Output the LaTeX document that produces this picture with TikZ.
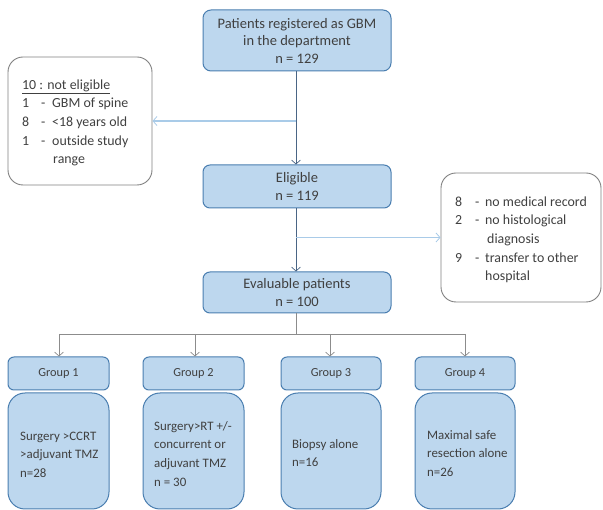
\documentclass[tikz,border=0pt]{standalone}
\usepackage{fontspec}
\setmainfont{Carlito}
\usetikzlibrary{arrows.meta}
\definecolor{boxfill}{HTML}{BDD7EE}
\definecolor{boxline}{HTML}{4A7EB0}
\definecolor{txt}{HTML}{404040}
\definecolor{mainarrow}{HTML}{4A6585}
\definecolor{sidearrow}{HTML}{A9CBE8}
\definecolor{grayline}{HTML}{8C8C8C}
\definecolor{sidebox}{HTML}{808080}
\tikzset{
  bluebox/.style={draw=boxline, fill=boxfill, line width=1pt, inner sep=0pt, text=txt, align=center},
  whitebox/.style={draw=sidebox, fill=white, line width=0.9pt, inner sep=0pt, rounded corners=15pt},
  bigtext/.style={font=\fontsize{14.5}{17.5}\selectfont},
  sidetext/.style={font=\fontsize{13.9}{18.6}\selectfont, text=txt, inner sep=0pt, align=left, anchor=north west},
  grptext/.style={font=\fontsize{12.9}{18.7}\selectfont, text=txt, inner sep=0pt, align=left, anchor=north west},
  mainline/.style={draw=mainarrow, line width=0.9pt},
  maintip/.style={-{Straight Barb[length=4pt,width=9pt,line width=0.7pt]}},
  sideline/.style={draw=sidearrow, line width=1.3pt, -{Straight Barb[length=4pt,width=9pt,line width=0.8pt]}},
  grayconn/.style={draw=grayline, line width=0.8pt},
  graytip/.style={-{Straight Barb[length=4pt,width=9pt,line width=0.7pt]}}
}
\begin{document}
\begin{tikzpicture}[x=1pt,y=-1pt]
\useasboundingbox (0,0) rectangle (603,510);
% main column
\node[bluebox, bigtext, rounded corners=8pt, minimum width=188pt, minimum height=61pt] (top) at (297,40.5)
  {Patients registered as GBM\\in the department\\n = 129};
\node[bluebox, bigtext, rounded corners=7pt, minimum width=188pt, minimum height=43pt] (elig) at (297,186.5)
  {Eligible\\n = 119};
\node[bluebox, bigtext, rounded corners=7pt, minimum width=188pt, minimum height=41pt] (eval) at (297,292.5)
  {Evaluable patients\\n = 100};
% side boxes
\node[whitebox, minimum width=144pt, minimum height=128pt] (left) at (80,121) {};
\node[sidetext] (lefttext) at (22,76) {\strut\underline{10 : not eligible}\\
  \makebox[19pt][l]{1}\makebox[11pt][l]{-}GBM of spine\\
  \makebox[19pt][l]{8}\makebox[11pt][l]{-}<18 years old\\
  \makebox[19pt][l]{1}\makebox[11pt][l]{-}outside study\\
  \hspace{31pt}range};
\node[whitebox, minimum width=160pt, minimum height=129pt] (right) at (521,237.5) {};
\node[sidetext] (righttext) at (455,193) {\strut\makebox[20pt][l]{8}\makebox[10pt][l]{-}no medical record\\
  \makebox[20pt][l]{2}\makebox[10pt][l]{-}no histological\\
  \hspace{32pt}diagnosis\\
  \makebox[20pt][l]{9}\makebox[10pt][l]{-}transfer to other\\
  \hspace{30pt}hospital};
% groups
\foreach \i/\cx/\w in {1/58.5/101, 2/193.5/101, 3/331/100, 4/465/100}{
  \node[bluebox, font=\fontsize{12.3}{15}\selectfont, rounded corners=6pt, minimum width=\w pt, minimum height=33pt] (g\i) at (\cx,373.5) {Group \i};
  \node[bluebox, rounded corners=17pt, minimum width=\w pt, minimum height=116pt] (d\i) at (\cx,451) {};
}
\node[grptext] (t1) at (20,427) {\strut Surgery >CCRT\\>adjuvant TMZ\\n=28};
\node[grptext] (t2) at (154,417) {\strut Surgery>RT +/-\\concurrent or\\adjuvant TMZ\\n = 30};
\node[grptext] (t3) at (292,435) {\strut Biopsy alone\\n=16};
\node[grptext] (t4) at (427,426) {\strut Maximal safe\\resection alone\\n=26};
% connectors
\coordinate (b1) at (296,121);
\coordinate (b2) at (296,237.5);
\coordinate (hub) at (296,334);
\coordinate (hl) at (59,334);
\coordinate (hr) at (465,334);
\draw[mainline, maintip] (top.south -| hub) -- (elig.north -| hub);
\draw[mainline, maintip] (elig.south -| hub) -- (eval.north -| hub);
\draw[sideline] (b1) -- (left.east);
\draw[sideline] (b2) -- (right.west);
\draw[grayconn] (eval.south -| hub) -- (hub);
\draw[grayconn] (hl) -- (hr);
\draw[grayconn, graytip] (hl) -- (g1.north -| hl);
\draw[grayconn, graytip] (hub -| 195,0) -- (g2.north -| 195,0);
\draw[grayconn, graytip] (hub -| 330,0) -- (g3.north -| 330,0);
\draw[grayconn, graytip] (hr) -- (g4.north -| hr);
\end{tikzpicture}
\end{document}
